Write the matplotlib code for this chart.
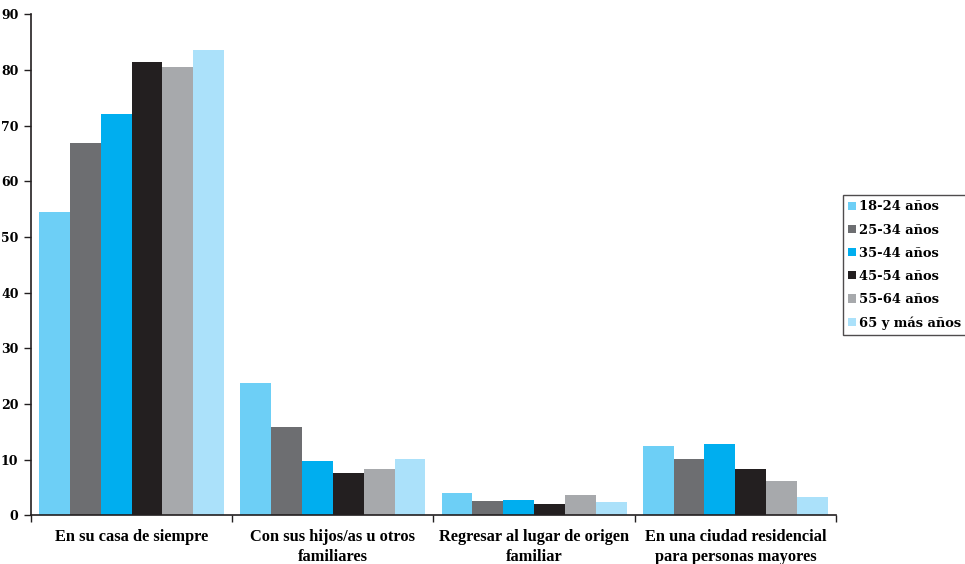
import numpy as np
import matplotlib
matplotlib.use("Agg")
import matplotlib.pyplot as plt

categories = [
    "En su casa de siempre",
    "Con sus hijos/as u otros\nfamiliares",
    "Regresar al lugar de origen\nfamiliar",
    "En una ciudad residencial\npara personas mayores",
]
age_groups = ["18-24 años", "25-34 años", "35-44 años", "45-54 años", "55-64 años", "65 y más años"]
values = {
    "18-24 años":    [54.4, 23.7, 4.1, 12.5],
    "25-34 años":    [66.9, 15.9, 2.6, 10.2],
    "35-44 años":    [72.0, 9.8, 2.75, 12.9],
    "45-54 años":    [81.4, 7.6, 2.0, 8.4],
    "55-64 años":    [80.5, 8.4, 3.6, 6.2],
    "65 y más años": [83.6, 10.1, 2.4, 3.4],
}
colors = ["#6dcff6", "#6d6e71", "#00aeef", "#231f20", "#a7a9ac", "#abe1fa"]
y_ticks = [0, 10, 20, 30, 40, 50, 60, 70, 80, 90]

fig = plt.figure(figsize=(9.65, 5.64), dpi=100)
ax = fig.add_axes([0.0321, 0.086, 0.8342, 0.889])

n = len(age_groups)
bar_w = 0.92 / n
x = np.arange(len(categories))
for i, (grp, col) in enumerate(zip(age_groups, colors)):
    offs = (i - (n - 1) / 2) * bar_w
    ax.bar(x + offs, values[grp], width=bar_w, color=col, label=grp,
           edgecolor="none", zorder=2)

ax.set_xlim(-0.5, len(categories) - 0.5)
ax.set_ylim(0, 90)
ax.set_yticks(y_ticks)
ax.set_yticklabels([str(v) for v in y_ticks], fontfamily="DejaVu Serif",
                   fontweight="bold", fontsize=9)

# category ticks sit on the boundaries between groups
ax.set_xticks(np.arange(len(categories) + 1) - 0.5)
ax.set_xticklabels([])
ax.set_xticks(x, minor=True)
ax.set_xticklabels(categories, minor=True, fontfamily="Liberation Serif",
                   fontweight="bold", fontsize=11.8, linespacing=1.32)
ax.tick_params(axis="x", which="minor", length=0, pad=10)
ax.tick_params(axis="x", which="major", length=5, width=1, direction="out", color="#231f20")
ax.tick_params(axis="y", length=5, width=1, direction="out", color="#231f20", pad=4)

for s in ["top", "right"]:
    ax.spines[s].set_visible(False)
for s in ["left", "bottom"]:
    ax.spines[s].set_color("#231f20")
    ax.spines[s].set_linewidth(1.2)

leg = ax.legend(loc="upper left", bbox_to_anchor=(0.8736, 0.654),
                bbox_transform=fig.transFigure, frameon=True, fancybox=False,
                prop={"family": "DejaVu Serif", "weight": "bold", "size": 9.4},
                handlelength=0.6, handleheight=0.6, handletextpad=0.25,
                labelspacing=0.78, borderpad=0.4, borderaxespad=0)
leg.get_frame().set_edgecolor("#231f20")
leg.get_frame().set_linewidth(1.0)

fig.savefig("out.png", dpi=100)
